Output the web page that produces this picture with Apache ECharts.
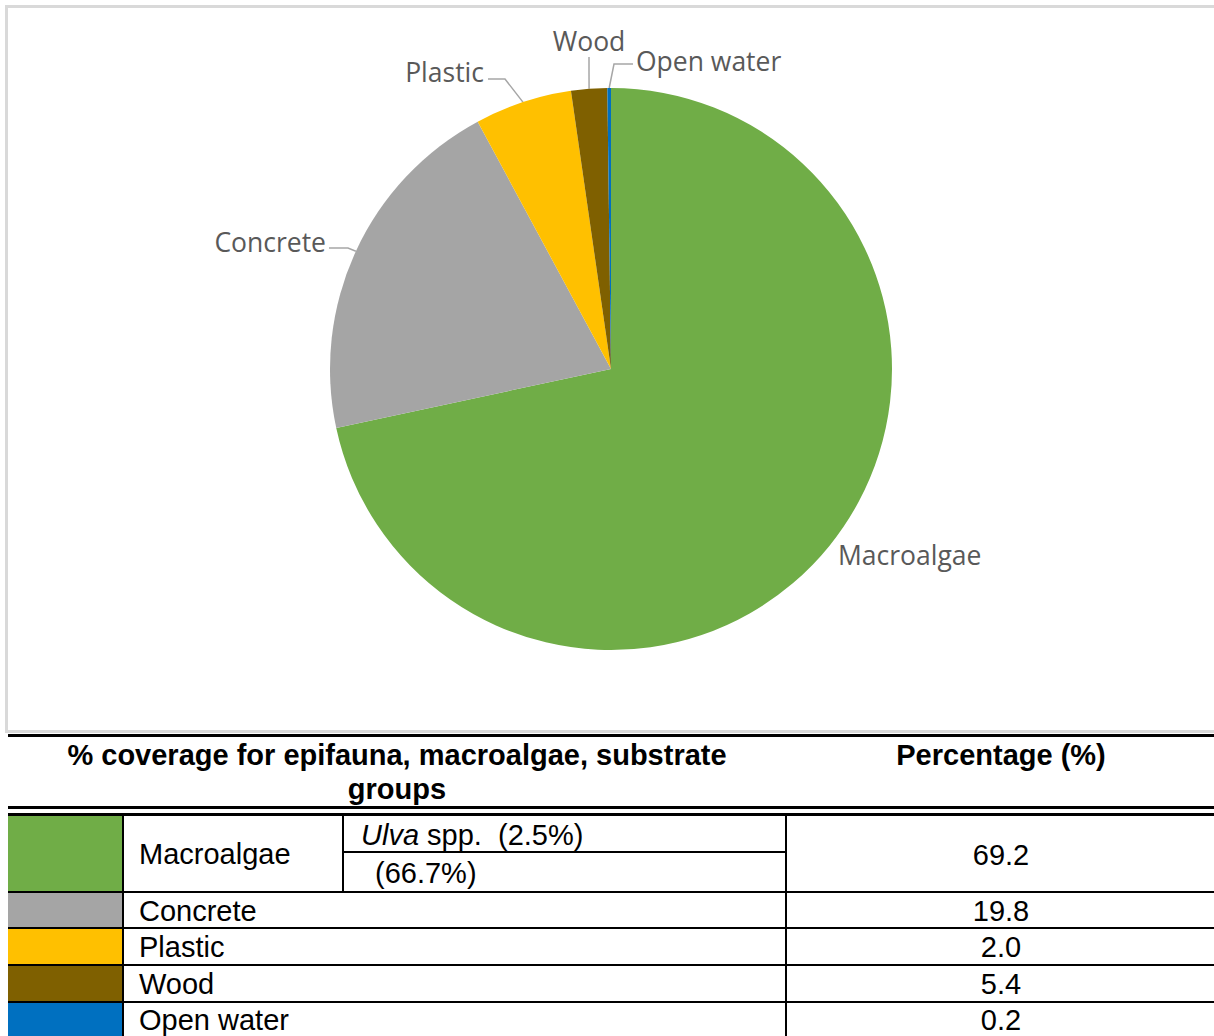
<!DOCTYPE html>
<html><head><meta charset="utf-8">
<script src="https://cdn.jsdelivr.net/npm/echarts@6/dist/echarts.min.js"></script>
<style>
html,body{margin:0;padding:0;background:#fff;width:1214px;height:1036px;overflow:hidden;position:relative;font-family:"Liberation Sans",Arial,sans-serif;}
#chart{position:absolute;left:0;top:0;width:1214px;height:734px;}
.ln{position:absolute;background:#000;}
.sw{position:absolute;}
.tx{position:absolute;font-size:29px;color:#000;line-height:28px;height:28px;white-space:pre;}
.c{transform:translateX(-50%);}
.b{font-weight:bold;}
</style></head><body>
<div id="chart"></div>
<div id="table"></div>
<script>
// ---- data ----
const categories = ['Macroalgae', 'Concrete', 'Plastic', 'Wood', 'Open water'];
const pieValues = [69.2, 19.8, 5.4, 2.0, 0.2];
const tableValues = ['69.2', '19.8', '2.0', '5.4', '0.2'];
const colors = ['#70ad47', '#a5a5a5', '#ffc000', '#7f6000', '#0070c0'];
const headerLeft = ['% coverage for epifauna, macroalgae, substrate', 'groups'];
const headerRight = 'Percentage (%)';
const macroSubItalic = 'Ulva';
const macroSubRows = [' spp.  (2.5%)', '(66.7%)'];

// ---- pie ----
const chart = echarts.init(document.getElementById('chart'), null, {renderer: 'svg'});
const labelSpots = [
  {x: 838, y: 555, align: 'left', bend: null},
  {x: 326, y: 242, align: 'right', bend: [[348, 248], [329, 248]]},
  {x: 484, y: 72, align: 'right', bend: [[505, 79], [488, 79]]},
  {x: 589, y: 41, align: 'center', bend: [[589, 72], [589, 57]]},
  {x: 636, y: 61, align: 'left', bend: [[614, 64], [633, 64]]}
];
chart.setOption({
  animation: false,
  graphic: [{
    type: 'rect', silent: true,
    shape: {x: 6.5, y: 6.5, width: 1230, height: 725},
    style: {fill: 'none', stroke: '#d9d9d9', lineWidth: 3}
  }],
  series: [{
    type: 'pie',
    center: [611, 369],
    radius: 281,
    startAngle: 90,
    clockwise: true,
    avoidLabelOverlap: false,
    data: categories.map((c, i) => ({
      name: c, value: pieValues[i],
      itemStyle: {color: colors[i]},
      labelLine: {show: i !== 0}
    })),
    label: {
      show: true, position: 'outside', formatter: '{b}',
      fontFamily: '"Open Sans", sans-serif', fontSize: 26.5, color: '#595959'
    },
    labelLine: {show: true, lineStyle: {color: '#a6a6a6', width: 1.5}},
    labelLayout: function (p) {
      const s = labelSpots[p.dataIndex];
      const out = {x: s.x, y: s.y, align: s.align, verticalAlign: 'middle'};
      if (s.bend && p.labelLinePoints) {
        out.labelLinePoints = [p.labelLinePoints[0], s.bend[0], s.bend[1]];
      }
      return out;
    }
  }]
});

// ---- table ----
const T = document.getElementById('table');
function add(cls, x, y, w, h, bg) {
  const d = document.createElement('div');
  d.className = cls;
  d.style.left = x + 'px'; d.style.top = y + 'px';
  if (w != null) d.style.width = w + 'px';
  if (h != null) d.style.height = h + 'px';
  if (bg) d.style.background = bg;
  T.appendChild(d);
  return d;
}
function text(str, x, cy, extra) {
  const d = add('tx ' + (extra || ''), x, cy - 14);
  d.textContent = str;
  return d;
}
// horizontal rules
add('ln', 8, 734, 1206, 3);
add('ln', 8, 806, 1206, 3);
add('ln', 8, 813, 1206, 3);
const rowTops = [816, 893, 929, 966, 1003];
const rowBots = [891, 927, 964, 1001, 1040];
[891, 927, 964, 1001].forEach(y => add('ln', 8, y, 1206, 2));
add('ln', 343, 851, 443, 2);
// swatches
categories.forEach((c, i) => add('sw', 8, rowTops[i], 114, rowBots[i] - rowTops[i], colors[i]));
// vertical rules
add('ln', 122, 816, 2, 224);
add('ln', 342, 816, 2, 76);
add('ln', 785, 816, 2, 224);
// header
text(headerLeft[0], 397, 755, 'b c');
text(headerLeft[1], 397, 789, 'b c');
text(headerRight, 1001, 755, 'b c');
// body
const rowCenters = [854, 911, 947, 984, 1020];
categories.forEach((c, i) => {
  text(c, 139, rowCenters[i]);
  text(tableValues[i], 1001, rowCenters[i] + (i === 0 ? 1 : 0), 'c');
});
const u = text('', 361, 835);
const it = document.createElement('i'); it.textContent = macroSubItalic;
u.appendChild(it); u.appendChild(document.createTextNode(macroSubRows[0]));
text(macroSubRows[1], 375, 873);
</script>
</body></html>
